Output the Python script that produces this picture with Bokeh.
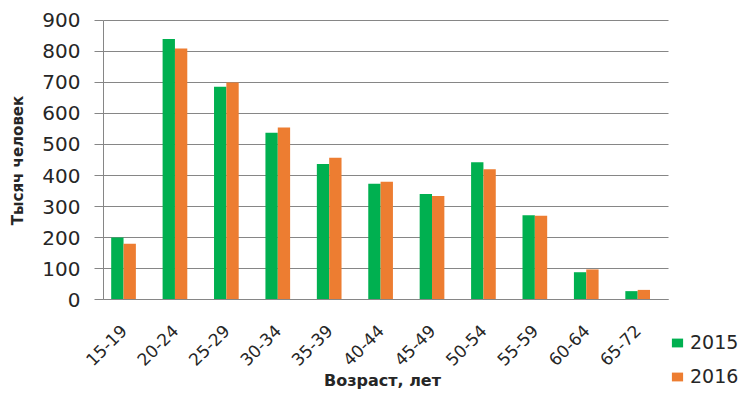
import numpy as np
from bokeh.plotting import figure
from bokeh.models import (Range1d, FixedTicker, ColumnDataSource, Legend, LegendItem, Label,
                          LinearAxis)
from bokeh.transform import dodge
from bokeh.embed import file_html
from bokeh.resources import INLINE

categories = ["15-19", "20-24", "25-29", "30-34", "35-39", "40-44",
              "45-49", "50-54", "55-59", "60-64", "65-72"]
values_2015 = [200, 840, 686, 538, 437, 373, 340, 443, 272, 88, 27]
values_2016 = [180, 810, 700, 555, 457, 380, 334, 420, 270, 97, 31]
y_ticks = [0, 100, 200, 300, 400, 500, 600, 700, 800, 900]
series_names = ["2015", "2016"]

GREEN = "#00B050"
ORANGE = "#ED7D31"
GRID = "#868686"
TEXT = "#262626"
FONT = "DejaVu Sans"

X_LO, X_HI = -0.39, 10.6      # category band of the plot area
Y_LO, Y_HI = 0, 900

src = ColumnDataSource(dict(x=list(range(len(categories))), v15=values_2015, v16=values_2016))

# the frame spans the whole canvas; axes sit at fixed data locations
p = figure(width=740, height=389, output_backend="svg", toolbar_location=None,
           x_range=Range1d(-2.393, 12.0), y_range=Range1d(-290.3, 964.5),
           x_axis_location=None, y_axis_location=None,
           min_border_left=0, min_border_right=0, min_border_top=0, min_border_bottom=0)
p.outline_line_color = None

r1 = p.vbar(x=dodge("x", -0.12, range=p.x_range), top="v15", width=0.24, source=src,
            fill_color=GREEN, line_color=None)
r2 = p.vbar(x=dodge("x", 0.12, range=p.x_range), top="v16", width=0.24, source=src,
            fill_color=ORANGE, line_color=None)

yax = LinearAxis(fixed_location=X_LO, bounds=(Y_LO, Y_HI), ticker=FixedTicker(ticks=y_ticks),
                 axis_line_color=GRID, major_tick_line_color=GRID,
                 major_tick_out=9, major_tick_in=0, minor_tick_line_color=None,
                 major_label_standoff=14, major_label_text_font=FONT,
                 major_label_text_font_size="20px", major_label_text_color=TEXT)
p.add_layout(yax, "left")

xax = LinearAxis(fixed_location=Y_LO, bounds=(X_LO, X_HI),
                 ticker=FixedTicker(ticks=list(range(len(categories)))),
                 major_label_overrides={i: c for i, c in enumerate(categories)},
                 major_label_orientation=np.pi / 4,
                 axis_line_color=GRID, major_tick_line_color=None, minor_tick_line_color=None,
                 major_label_standoff=22, major_label_text_font=FONT,
                 major_label_text_font_size="17px", major_label_text_color=TEXT)
p.add_layout(xax, "below")

p.xgrid.grid_line_color = None
p.ygrid.grid_line_color = GRID
p.ygrid.grid_line_width = 1.2
p.ygrid.cross_bounds = (X_LO, X_HI)
p.ygrid.bounds = (Y_LO, Y_HI)
p.ygrid.ticker = FixedTicker(ticks=y_ticks)

ytitle = Label(x=17, y=229, x_units="screen", y_units="screen", text="Тысяч человек",
               angle=np.pi / 2, text_align="center", text_baseline="middle", text_font=FONT,
               text_font_style="bold", text_font_size="15px", text_color=TEXT)
p.add_layout(ytitle)

xtitle = Label(x=382, y=0, x_units="screen", y_units="screen", text="Возраст, лет",
               text_align="center", text_baseline="bottom", text_font=FONT,
               text_font_style="bold", text_font_size="16px", text_color=TEXT)
p.add_layout(xtitle)

legend = Legend(items=[LegendItem(label=series_names[0], renderers=[r1]),
                       LegendItem(label=series_names[1], renderers=[r2])],
                location=(670, 2), orientation="vertical")
legend.border_line_color = None
legend.background_fill_alpha = 0
legend.padding = 0
legend.margin = 0
legend.spacing = 12
legend.label_height = 20
legend.glyph_width = 14
legend.glyph_height = 11
legend.label_text_font = FONT
legend.label_text_font_size = "19px"
legend.label_text_color = TEXT
legend.label_standoff = 6
p.add_layout(legend)

open("out.html", "w").write(file_html(p, INLINE))
